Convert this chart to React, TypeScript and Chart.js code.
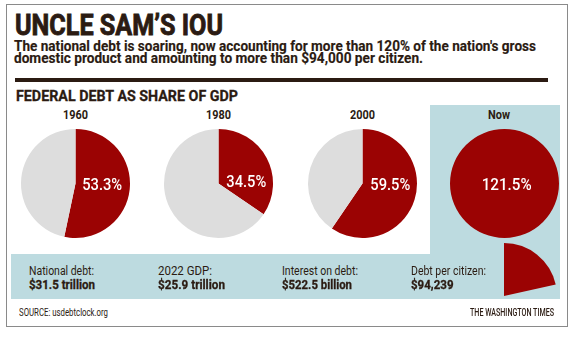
import React, { useEffect, useLayoutEffect, useRef } from 'react';
import { Chart, PieController, ArcElement } from 'chart.js';

Chart.register(PieController, ArcElement);

// ---- data ----
const years = ['1960', '1980', '2000', 'Now'];
const debtShare = [53.3, 34.5, 59.5, 121.5];
const shareLabels = ['53.3%', '34.5%', '59.5%', '121.5%'];
const statLabels = ['National debt:', '2022 GDP:', 'Interest on debt:', 'Debt per citizen:'];
const statValues = ['$31.5 trillion', '$25.9 trillion', '$522.5 billion', '$94,239'];

const TITLE = 'UNCLE SAM\u2019S IOU';
const SUB1 = "The national debt is soaring, now accounting for more than 120% of the nation's gross";
const SUB2 = 'domestic product and amounting to more than $94,000 per citizen.';
const SECTION = 'FEDERAL DEBT AS SHARE OF GDP';
const SOURCE = 'SOURCE: usdebtclock.org';
const CREDIT = 'THE WASHINGTON TIMES';

// ---- layout / style ----
const INK = '#2b1b12';
const RED = '#9b0303';
const GRAY = '#dddddd';
const BLUE = '#bddbe0';
const FONT = 'Roboto, "Liberation Sans", Arial, sans-serif';

const pieCX = [75, 218, 362, 504];
const pieCY = 183;
const pieR = 54.5;
const labelDX = [0.49, 0.51, 0.51, 0.04];
const labelDY = [0, -0.055, 0, 0];
const labelW = [40, 40, 40, 50];
const yearW = [25, 25, 25, 22];
const statX = [29, 157.5, 282, 411];
const statLabelW = [65, 54, 76, 75];
const statValueW = [66, 67, 70, 42.5];

const labelPlugin = {
  id: 'shareLabel',
  afterDatasetsDraw(chart: any, _args: any, opts: any) {
    if (!opts || !opts.text) return;
    const arc = chart.getDatasetMeta(0).data[0];
    const p = arc.getProps(['x', 'y', 'outerRadius'], true);
    const ctx = chart.ctx;
    ctx.save();
    ctx.font = `500 17px ${FONT}`;
    ctx.fillStyle = '#ffffff';
    ctx.textAlign = 'center';
    ctx.textBaseline = 'alphabetic';
    const m = ctx.measureText(opts.text).width;
    const sx = opts.width / m;
    const tx = p.x + opts.dx * p.outerRadius;
    const ty = p.y + opts.dy * p.outerRadius + 6;
    ctx.translate(tx, ty);
    ctx.scale(sx, 1);
    ctx.fillText(opts.text, 0, 0);
    ctx.restore();
  },
};

function Pie(props: {
  values: number[];
  colors: string[];
  cx: number;
  cy: number;
  r: number;
  label?: string;
  dx?: number;
  dy?: number;
  lw?: number;
}) {
  const ref = useRef<HTMLCanvasElement>(null);
  const size = Math.ceil(props.r * 2 + 10);
  useEffect(() => {
    const chart = new Chart(ref.current as HTMLCanvasElement, {
      type: 'pie',
      data: {
        labels: ['debt', 'rest'],
        datasets: [
          {
            data: props.values,
            backgroundColor: props.colors,
            borderWidth: 0,
            hoverOffset: 0,
            radius: props.r,
          } as any,
        ],
      },
      options: {
        animation: false,
        responsive: false,
        events: [],
        layout: { padding: 0 },
        plugins: {
          legend: { display: false },
          tooltip: { enabled: false },
          shareLabel: { text: props.label, dx: props.dx, dy: props.dy, width: props.lw },
        } as any,
      },
      plugins: [labelPlugin],
    });
    return () => chart.destroy();
  }, []);
  return (
    <canvas
      ref={ref}
      width={size}
      height={size}
      style={{ position: 'absolute', left: props.cx - size / 2, top: props.cy - size / 2, width: size, height: size }}
    />
  );
}

function Txt(props: {
  x: number;
  base: number;
  size: number;
  w: number;
  text: string;
  weight?: number;
  align?: 'left' | 'center' | 'right';
  color?: string;
  stroke?: number;
}) {
  const ref = useRef<HTMLSpanElement>(null);
  useLayoutEffect(() => {
    const el = ref.current as HTMLSpanElement;
    el.style.transform = 'none';
    const m = el.getBoundingClientRect().width;
    el.style.transform = `scaleX(${props.w / m})`;
  }, []);
  const align = props.align || 'left';
  const left = align === 'center' ? props.x - props.w / 2 : align === 'right' ? props.x - props.w : props.x;
  const color = props.color || INK;
  return (
    <span
      ref={ref}
      style={{
        position: 'absolute',
        left,
        top: props.base - 0.842 * props.size,
        fontFamily: FONT,
        fontSize: props.size,
        lineHeight: `${props.size}px`,
        fontWeight: props.weight || 400,
        color,
        whiteSpace: 'nowrap',
        display: 'block',
        transformOrigin: 'left center',
        WebkitTextStroke: props.stroke ? `${props.stroke}px ${color}` : undefined,
      }}
    >
      {props.text}
    </span>
  );
}

export default function App() {
  return (
    <div style={{ position: 'absolute', left: 0, top: 0, width: 582, height: 353, background: '#fff', overflow: 'hidden' }}>
      {/* outer frame */}
      <div style={{ position: 'absolute', left: 6, top: 4, width: 562, height: 323, border: '1px solid #8a8a8a', boxSizing: 'border-box' }} />
      {/* blue panels */}
      <div style={{ position: 'absolute', left: 430, top: 105, width: 130, height: 149, background: BLUE }} />
      <div style={{ position: 'absolute', left: 11, top: 254, width: 549, height: 45, background: BLUE }} />
      {/* rule */}
      <div style={{ position: 'absolute', left: 15, top: 78, width: 533, height: 4, background: INK }} />

      <Txt x={15} base={35} size={30} w={208} text={TITLE} weight={700} stroke={0.9} />
      <Txt x={14} base={51.5} size={15} w={522} text={SUB1} weight={700} stroke={0.15} />
      <Txt x={14} base={64} size={15} w={409} text={SUB2} weight={700} stroke={0.15} />
      <Txt x={16} base={102} size={15.5} w={222} text={SECTION} weight={700} stroke={0.3} />

      {years.map((y, i) => (
        <Txt key={y} x={pieCX[i] - (i === 3 ? 5 : 0)} base={120} size={12.5} w={yearW[i]} text={y} weight={700} align="center" />
      ))}

      {debtShare.map((v, i) => (
        <Pie
          key={'p' + i}
          values={[Math.min(v, 100), Math.max(0, 100 - v)]}
          colors={[RED, GRAY]}
          cx={pieCX[i]}
          cy={pieCY}
          r={pieR}
          label={shareLabels[i]}
          dx={labelDX[i]}
          dy={labelDY[i]}
          lw={labelW[i]}
        />
      ))}
      {debtShare.map((v, i) =>
        v > 100 ? (
          <Pie
            key={'w' + i}
            values={[v - 100, 200 - v]}
            colors={[RED, 'rgba(0,0,0,0)']}
            cx={pieCX[i]}
            cy={296}
            r={53}
          />
        ) : null
      )}

      {statLabels.map((s, i) => (
        <Txt key={s} x={statX[i]} base={275} size={12} w={statLabelW[i]} text={s} weight={400} />
      ))}
      {statValues.map((s, i) => (
        <Txt key={s} x={statX[i]} base={288.5} size={13} w={statValueW[i]} text={s} weight={700} stroke={0.3} />
      ))}

      <Txt x={19} base={316} size={11} w={89} text={SOURCE} weight={400} />
      <Txt x={554} base={316} size={11} w={84} text={CREDIT} weight={500} align="right" />
    </div>
  );
}
